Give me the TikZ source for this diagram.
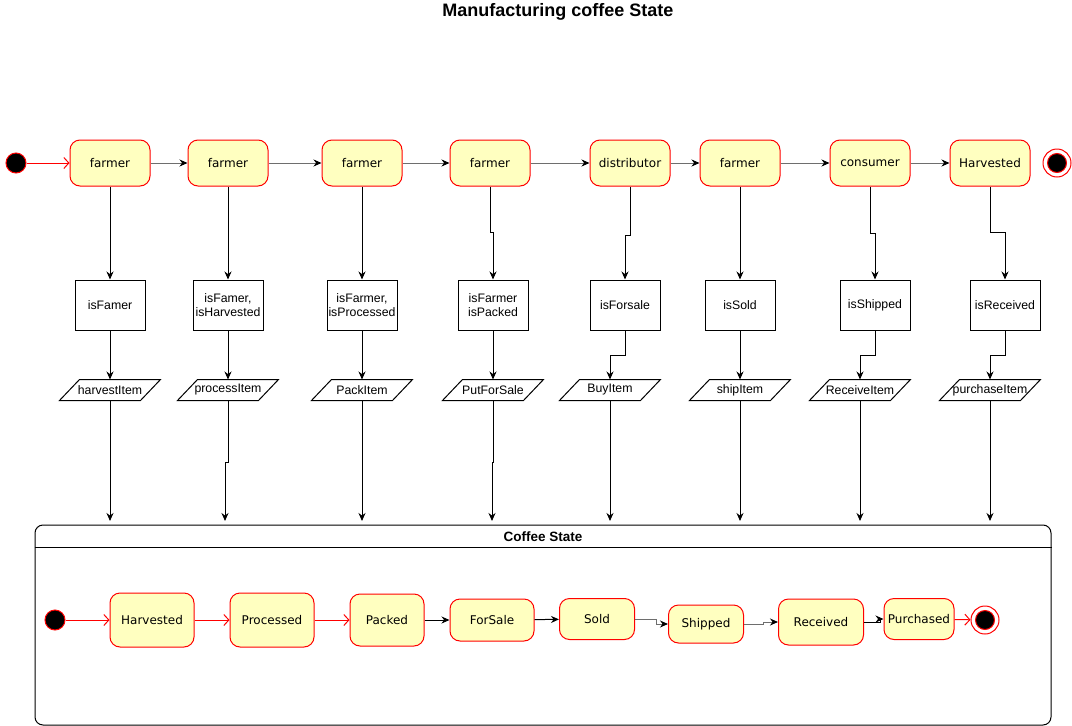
\documentclass[tikz,border=0pt]{standalone}
\usepackage{fontspec}
\setmainfont{Liberation Sans}
\newfontfamily\statefont{DejaVu Sans}
\usetikzlibrary{arrows.meta}
\definecolor{vblack}{HTML}{000000}
\definecolor{vgray}{HTML}{6e6e6e}
\definecolor{vred}{HTML}{ff0000}
\definecolor{vyellow}{HTML}{ffffc0}

\tikzset{
	state/.style = {draw = vred, fill = vyellow, rounded corners = 10pt, minimum width = 80pt, minimum height = 46pt, inner sep = 0pt, font = \statefont\fontsize{12}{14}\selectfont},
	guard/.style = {draw = vblack, fill = white, minimum width = 70pt, minimum height = 50pt, align = center, inner sep = 0pt, font = \fontsize{12.3}{14}\selectfont},
	io/.style = {minimum width = 80pt, minimum height = 20pt, inner sep = 0pt, font = \fontsize{12.3}{14}\selectfont},
	flow/.style = {draw = vblack, -{Stealth[length = 8pt, width = 7pt]}},
	move/.style = {draw = vgray, -{Stealth[length = 8pt, width = 7pt, color = vblack]}},
	redflow/.style = {draw = vred, -{Straight Barb[length = 5pt, width = 11pt]}},
	startdot/.style = {circle, draw = vred, fill = vblack, minimum size = 20pt, inner sep = 0pt},
	enddot/.style = {circle, draw = vred, fill = white, minimum size = 28pt, inner sep = 0pt},
}

\begin{document}
\begin{tikzpicture}[x = 1pt, y = -1pt, line width = 1pt]
		\useasboundingbox (0,0) rectangle (1072,726);
		\node[font = \bfseries\fontsize{18}{21}\selectfont] (title) at (558,12) {Manufacturing coffee State};

		% who acts
		\node[startdot] (start) at (16,163) {};
		\node[state] (f1) at (110,163) {farmer};
		\node[state] (f2) at (228,163) {farmer};
		\node[state] (f3) at (362,163) {farmer};
		\node[state] (f4) at (490,163) {farmer};
		\node[state] (dist) at (630,163) {distributor};
		\node[state] (f5) at (740,163) {farmer};
		\node[state] (cons) at (870,163) {consumer};
		\node[state] (harv) at (990,163) {Harvested};
		\node[enddot] (stop) at (1057,163) {};
		\node[circle, draw = vred, fill = vblack, minimum size = 19pt, inner sep = 0pt] (stopin) at (stop.center) {};

		\draw[redflow] (start) -- (f1);
		\draw[move] (f1) -- (f2);
		\draw[move] (f2) -- (f3);
		\draw[move] (f3) -- (f4);
		\draw[move] (f4) -- (dist);
		\draw[move] (dist) -- (f5);
		\draw[move] (f5) -- (cons);
		\draw[move] (cons) -- (harv);

		% checks
		\node[guard] (c1) at (110,305) {isFamer};
		\node[guard] (c2) at (228,305) {isFamer,\\isHarvested};
		\node[guard] (c3) at (362,305) {isFarmer,\\isProcessed};
		\node[guard] (c4) at (493,305) {isFarmer\\isPacked};
		\node[guard] (c5) at (625,305) {isForsale};
		\node[guard] (c6) at (740,305) {isSold};
		\node[guard] (c7) at (875,305) {isShipped};
		\node[guard] (c8) at (1005,305) {isReceived};

		\draw[flow] (f1) -- (c1);
		\draw[flow] (f2) -- (c2);
		\draw[flow] (f3) -- (c3);
		\draw[flow] (f4.south) -- ++(0,46) -| (c4.north);
		\draw[flow] (dist.south) -- ++(0,49) -| (c5.north);
		\draw[flow] (f5) -- (c6);
		\draw[flow] (cons.south) -- ++(0,47) -| (c7.north);
		\draw[flow] (harv.south) -- ++(0,46) -| (c8.north);

		% functions
		\node[io] (p1) at (110,390) {harvestItem};
		\node[io] (p2) at (228,390) {processItem};
		\node[io] (p3) at (362,390) {PackItem};
		\node[io] (p4) at (493,390) {PutForSale};
		\node[io] (p5) at (610,390) {BuyItem};
		\node[io] (p6) at (740,390) {shipItem};
		\node[io] (p7) at (860,390) {ReceiveItem};
		\node[io] (p8) at (990,390) {purchaseItem};
		\foreach \p in {p1,p2,p3,p4,p5,p6,p7,p8}
			\draw[draw = vblack] ([xshift = -10pt]\p.south west) -- ([xshift = -10pt]\p.south east) -- ([xshift = 10pt]\p.north east) -- ([xshift = 10pt]\p.north west) -- cycle;

		\draw[flow] (c1) -- (p1);
		\draw[flow] (c2) -- (p2);
		\draw[flow] (c3) -- (p3);
		\draw[flow] (c4) -- (p4);
		\draw[flow] (c5.south) -- ++(0,25) -| (p5.north);
		\draw[flow] (c6) -- (p6);
		\draw[flow] (c7.south) -- ++(0,25) -| (p7.north);
		\draw[flow] (c8.south) -- ++(0,25) -| (p8.north);

		% coffee state
		\node[draw = vblack, rounded corners = 8pt, minimum width = 1016pt, minimum height = 200pt, inner sep = 0pt] (coffee) at (543,625) {};
		\draw[draw = vblack] ([yshift = -23pt]coffee.north west) -- ([yshift = -23pt]coffee.north east);
		\node[font = \bfseries\fontsize{13.5}{15}\selectfont] (ctitle) at (543,537) {Coffee State};

		\foreach \x [count = \i] in {110,225,362,492,610,740,860,990}
			\coordinate (t\i) at (\x,521);
		\draw[flow] (p1) -- (t1);
		\draw[flow] (p2.south) -- ++(0,62) -| (t2);
		\draw[flow] (p3) -- (t3);
		\draw[flow] (p4.south) -- ++(0,62) -| (t4);
		\draw[flow] (p5) -- (t5);
		\draw[flow] (p6) -- (t6);
		\draw[flow] (p7) -- (t7);
		\draw[flow] (p8) -- (t8);

		\node[startdot] (cstart) at (55,620) {};
		\node[state, minimum width = 84pt, minimum height = 54pt] (s1) at (152,620) {Harvested};
		\node[state, minimum width = 84pt, minimum height = 54pt] (s2) at (272,620) {Processed};
		\node[state, minimum width = 74pt, minimum height = 52pt] (s3) at (387,620) {Packed};
		\node[state, minimum width = 84pt, minimum height = 42pt] (s4) at (492,620) {ForSale};
		\node[state, minimum width = 75pt, minimum height = 41pt] (s5) at (597,619) {Sold};
		\node[state, minimum width = 75pt, minimum height = 38pt] (s6) at (706,624) {Shipped};
		\node[state, minimum width = 85pt, minimum height = 46pt] (s7) at (821,622) {Received};
		\node[state, minimum width = 70pt, minimum height = 41pt] (s8) at (919,619) {Purchased};
		\node[enddot] (cstop) at (985,620) {};
		\node[circle, draw = vred, fill = vblack, minimum size = 19pt, inner sep = 0pt] (cstopin) at (cstop.center) {};

		\draw[redflow] (cstart) -- (s1);
		\draw[redflow] (s1) -- (s2);
		\draw[redflow] (s2) -- (s3);
		\draw[flow] (s3) -- (s4);
		\draw[flow] (s4) -- (s5);
		\draw[move] (s5.east) -- ++(21,0) |- (s6.west);
		\draw[move] (s6.east) -- ++(19,0) |- (s7.west);
		\draw[flow] (s7.east) -- ++(16,0) |- (s8.west);
		\draw[redflow] (s8) -- (cstop);
	\end{tikzpicture}
\end{document}
